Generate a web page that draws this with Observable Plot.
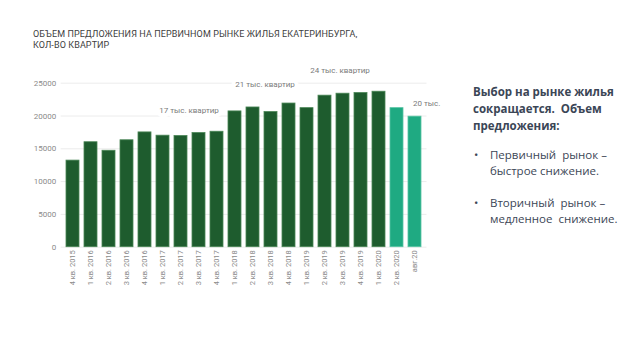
<!DOCTYPE html>
<html><head><meta charset="utf-8">
<script src="https://cdn.jsdelivr.net/npm/d3@7"></script>
<script src="https://cdn.jsdelivr.net/npm/@observablehq/plot@0.6"></script>
<style>
body{margin:0;background:#fff;}
#wrap{position:relative;width:640px;height:360px;overflow:hidden;font-family:Roboto,sans-serif;}
#title{position:absolute;left:33px;top:29px;font-size:9px;line-height:11px;color:#404040;letter-spacing:0.1px;}
#chart{position:absolute;left:0;top:0;}
#side{position:absolute;left:473px;top:83px;color:#3b4656;font-family:"Open Sans",sans-serif;}
#side .h{font-weight:bold;font-size:11.5px;line-height:17px;}
#side ul{margin:13px 0 0 0;padding:0;list-style:none;font-size:11.5px;line-height:15.5px;}
#side li{position:relative;padding-left:17px;margin-bottom:17px;}
#side li:before{content:"•";position:absolute;left:1px;top:0;}
</style></head>
<body><div id="wrap">
<div id="title">ОБЪЕМ ПРЕДЛОЖЕНИЯ НА ПЕРВИЧНОМ РЫНКЕ ЖИЛЬЯ ЕКАТЕРИНБУРГА,<br>КОЛ-ВО КВАРТИР</div>
<div id="chart"></div>
<div id="side"><div class="h">Выбор на рынке жилья<br>сокращается.&nbsp; Объем<br>предложения:</div>
<ul><li>Первичный&nbsp; рынок –<br>быстрое снижение.</li><li>Вторичный&nbsp; рынок –<br>медленное&nbsp; снижение.</li></ul></div>
</div>
<script>
const categories = ["4 кв. 2015","1 кв. 2016","2 кв. 2016","3 кв. 2016","4 кв. 2016","1 кв. 2017","2 кв. 2017","3 кв. 2017","4 кв. 2017","1 кв. 2018","2 кв. 2018","3 кв. 2018","4 кв. 2018","1 кв. 2019","2 кв. 2019","3 кв. 2019","4 кв. 2019","1 кв. 2020","2 кв. 2020","авг.20"];
const values = [13200,16000,14700,16300,17500,17000,16950,17400,17600,20700,21300,20600,21900,21200,23100,23400,23500,23700,21200,19900];
const forecast = [false,false,false,false,false,false,false,false,false,false,false,false,false,false,false,false,false,false,true,true];
const yTicks = [0,5000,10000,15000,20000,25000];
const annLabels = ["17 тыс. квартир","21 тыс. квартир","24 тыс. квартир","20 тыс."];
const annCats = ["2 кв. 2017","2 кв. 2018","3 кв. 2019","авг.20"];
const annValues = [20900,24850,26900,21950];
const annDx = [8,12,-3,-2];

const data = categories.map((c,i)=>({cat:c,value:values[i],f:forecast[i]}));
const ann = annLabels.map((t,i)=>({t,cat:annCats[i],v:annValues[i],dx:annDx[i]}));

const chart = Plot.plot({
  width:450,height:300,
  marginLeft:60.65,marginRight:23.5,marginTop:82.7,marginBottom:53.3,
  style:{fontFamily:"Roboto, sans-serif",overflow:"visible",background:"transparent"},
  x:{domain:categories,padding:0.28,label:null},
  y:{domain:[0,25000],label:null},
  marks:[
    Plot.ruleY(yTicks,{stroke:"#ececec",strokeWidth:1}),
    Plot.axisY({ticks:yTicks,tickSize:0,tickPadding:5,fontSize:8,color:"#8a8a8a",tickFormat:d=>String(d),label:null}),
    Plot.axisX({tickRotate:-90,tickSize:0,tickPadding:3,fontSize:7.5,color:"#8a8a8a",label:null}),
    Plot.barY(data,{x:"cat",y:"value",fill:d=>d.f?"#1faa82":"#1e5c2e",stroke:d=>d.f?"#58c4a3":"#4a8656",strokeWidth:0.8}),
    ...ann.slice(0,3).map(a=>Plot.text([a],{x:"cat",y:"v",text:"t",dx:a.dx,fontSize:8,fill:"#7a7a7a",stroke:"white",strokeWidth:8})),
    Plot.text(ann.slice(3),{x:"cat",y:"v",text:"t",dx:-2,textAnchor:"start",fontSize:8,fill:"#7a7a7a",stroke:"white",strokeWidth:8})
  ]
});
document.getElementById("chart").appendChild(chart);
</script>
</body></html>
